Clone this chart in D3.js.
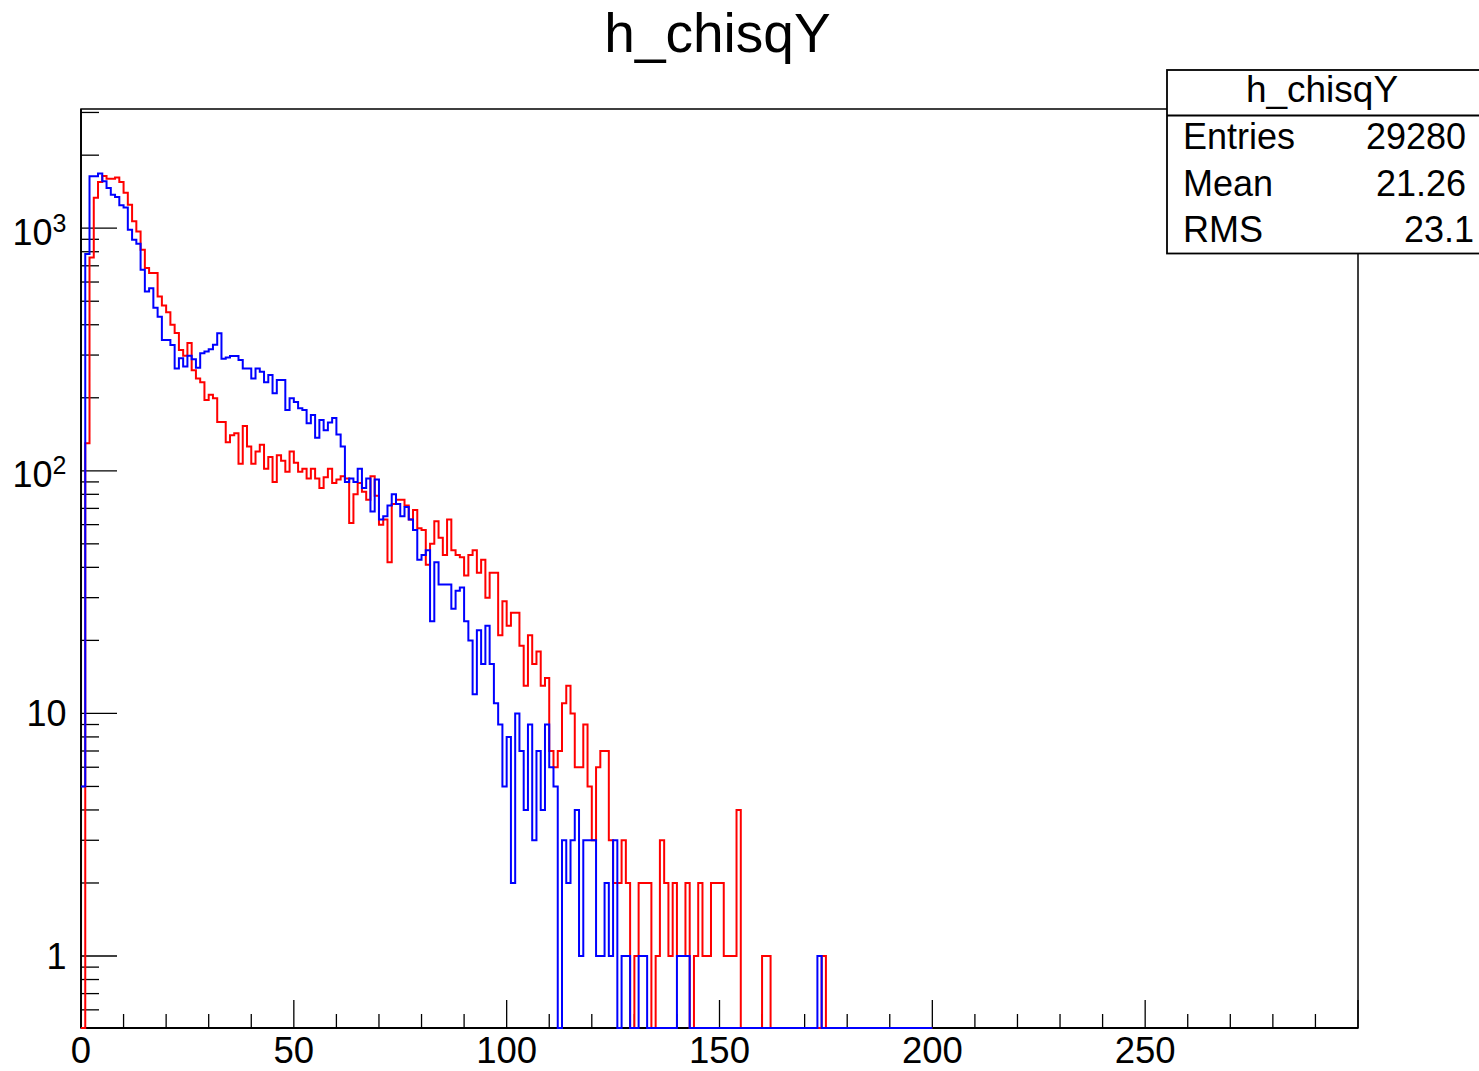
<!DOCTYPE html>
<html><head><meta charset="utf-8">
<script src="https://cdn.jsdelivr.net/npm/d3@7"></script>
<style>
body{margin:0;background:#fff;}
svg{display:block;}
text{font-family:"Liberation Sans",Arial,Helvetica,sans-serif;fill:#000;}
</style>
</head><body>
<svg id="c" width="1479" height="1071"></svg>
<script>
// ---------- data ----------
const chartTitle = "h_chisqY";
const binLow = 0, binWidth = 1;            // bins [i, i+1)
const xTickLabels = [0, 50, 100, 150, 200, 250];
const yDecadeValues = [1, 10, 100, 1000];
const yDecadeBase = ["1", "10", "10", "10"];
const yDecadeExp = ["", "", "2", "3"];
const statsTitle = "h_chisqY";
const statsNames = ["Entries", "Mean", "RMS"];
const statsValues = ["29280", "21.26", "23.1"];

// blue histogram, bins 0..199
const blueCounts = [
  5, 782, 1637, 1637, 1680, 1560, 1465, 1374, 1345, 1242,
  1218, 986, 896, 863, 674, 548, 566, 470, 432, 346,
  346, 330, 264, 291, 269, 298, 288, 266, 305, 310,
  317, 331, 369, 290, 293, 297, 297, 286, 264, 264,
  240, 264, 256, 232, 248, 209, 237, 237, 178, 199,
  192, 181, 178, 157, 170, 137, 162, 147, 158, 165,
  141, 126, 90, 93, 90, 102, 85, 93, 68, 92,
  63, 65, 72, 80, 73, 65, 71, 63, 57, 43,
  45, 47, 24, 42, 34, 34, 34, 27, 32, 33,
  24, 20, 12, 22, 16, 23, 16, 11, 9, 5,
  8, 2, 10, 7, 4, 9, 3, 7, 4, 9,
  6, 5, 0, 3, 2, 3, 4, 1, 3, 3,
  3, 1, 1, 2, 1, 3, 0, 1, 1, 0,
  0, 1, 1, 0, 0, 0, 0, 0, 0, 0,
  1, 1, 1, 0, 0, 0, 0, 0, 0, 0,
  0, 0, 0, 0, 0, 0, 0, 0, 0, 0,
  0, 0, 0, 0, 0, 0, 0, 0, 0, 0,
  0, 0, 0, 1, 0, 0, 0, 0, 0, 0,
  0, 0, 0, 0, 0, 0, 0, 0, 0, 0,
  0, 0, 0, 0, 0, 0, 0, 0, 0, 0
];

// red histogram, bins 0..199
const redCounts = [
  0, 130, 757, 1334, 1550, 1640, 1600, 1600, 1620, 1550,
  1400, 1250, 1067, 970, 815, 685, 653, 653, 523, 480,
  450, 400, 370, 315, 298, 336, 260, 240, 232, 196,
  206, 199, 159, 159, 131, 140, 143, 107, 153, 126,
  107, 120, 128, 102, 114, 90, 116, 110, 99, 120,
  108, 99, 102, 93, 102, 93, 85, 94, 102, 89,
  92, 95, 93, 61, 80, 89, 82, 76, 95, 79,
  60, 63, 42, 73, 76, 76, 72, 63, 69, 58,
  57, 41, 50, 62, 53, 45, 63, 47, 45, 44,
  37, 45, 47, 38, 43, 30, 38, 38, 21, 29,
  23, 26, 26, 19, 13, 21, 16, 18, 13, 14,
  7, 6, 7, 11, 13, 10, 6, 6, 9, 5,
  3, 6, 7, 7, 3, 2, 2, 3, 2, 0,
  1, 2, 2, 2, 0, 1, 3, 2, 1, 2,
  1, 1, 2, 0, 1, 2, 1, 1, 2, 2,
  2, 1, 1, 1, 4, 0, 0, 0, 0, 0,
  1, 1, 0, 0, 0, 0, 0, 0, 0, 0,
  0, 0, 0, 0, 1, 0, 0, 0, 0, 0,
  0, 0, 0, 0, 0, 0, 0, 0, 0, 0,
  0, 0, 0, 0, 0, 0, 0, 0, 0, 0
];

// ---------- layout ----------
const F = {left: 81, right: 1358, top: 109, bottom: 1028};
const svg = d3.select("#c");
const x = d3.scaleLinear().domain([0, 300]).range([F.left, F.right]);
const y = d3.scaleLog().domain([0.505, 3100]).range([F.bottom, F.top]);
const yv = v => v > 0 ? y(v) : F.bottom;

// frame
svg.append("rect").attr("x", F.left).attr("y", F.top)
  .attr("width", F.right - F.left).attr("height", F.bottom - F.top)
  .attr("fill", "#fff").attr("stroke", "#000").attr("stroke-width", 1.5);

// x ticks (pointing up, inside)
const xMinor = d3.range(0, 300, 10).filter(v => v % 50 !== 0);
const xMajor = d3.range(0, 301, 50);
const gx = svg.append("g");
gx.selectAll("line.mn").data(xMinor).join("line")
  .attr("x1", d => x(d)).attr("x2", d => x(d))
  .attr("y1", F.bottom).attr("y2", F.bottom - 14)
  .attr("stroke", "#000").attr("stroke-width", 1.3);
gx.selectAll("line.mj").data(xMajor).join("line")
  .attr("x1", d => x(d)).attr("x2", d => x(d))
  .attr("y1", F.bottom).attr("y2", F.bottom - 28)
  .attr("stroke", "#000").attr("stroke-width", 1.3);
gx.selectAll("text").data(xTickLabels).join("text")
  .attr("x", d => x(d)).attr("y", 1063)
  .attr("text-anchor", "middle").attr("font-size", 36.5)
  .text(d => d);

// y ticks
const yMinor = [];
[0.1, 1, 10, 100, 1000].forEach(dec => {
  for (let m = 2; m <= 9; m++) {
    const v = dec * m;
    if (v >= 0.505 && v <= 3100) yMinor.push(v);
  }
});
const gy = svg.append("g");
gy.selectAll("line.mn").data(yMinor).join("line")
  .attr("x1", F.left).attr("x2", F.left + 18)
  .attr("y1", d => y(d)).attr("y2", d => y(d))
  .attr("stroke", "#000").attr("stroke-width", 1.3);
gy.selectAll("line.mj").data(yDecadeValues).join("line")
  .attr("x1", F.left).attr("x2", F.left + 36)
  .attr("y1", d => y(d)).attr("y2", d => y(d))
  .attr("stroke", "#000").attr("stroke-width", 1.3);
const ylab = gy.selectAll("text").data(yDecadeValues).join("text")
  .attr("x", 66.5)
  .attr("y", (d, i) => y(d) + (yDecadeExp[i] ? 16.5 : 12.5))
  .attr("text-anchor", "end").attr("font-size", 36);
ylab.append("tspan").text((d, i) => yDecadeBase[i]);
ylab.filter((d, i) => yDecadeExp[i] !== "")
  .append("tspan").attr("font-size", 25).attr("dy", -13)
  .text((d) => yDecadeExp[yDecadeValues.indexOf(d)]);

// axis lines
svg.append("line").attr("x1", F.left).attr("x2", F.right)
  .attr("y1", F.bottom).attr("y2", F.bottom).attr("stroke", "#000").attr("stroke-width", 1.8);
svg.append("line").attr("x1", F.left).attr("x2", F.left)
  .attr("y1", F.top).attr("y2", F.bottom).attr("stroke", "#000").attr("stroke-width", 1.8);

// histograms
function stepPoints(counts) {
  const pts = [];
  counts.forEach((c, i) => {
    const lo = binLow + i * binWidth;
    pts.push([lo, c]);
    pts.push([lo + binWidth, c]);
  });
  return pts;
}
const line = d3.line().x(d => x(d[0])).y(d => yv(d[1]));
svg.append("path").datum(stepPoints(redCounts)).attr("d", line)
  .attr("fill", "none").attr("stroke", "#ff0000").attr("stroke-width", 2)
  .attr("stroke-linejoin", "miter");
svg.append("path").datum(stepPoints(blueCounts)).attr("d", line)
  .attr("fill", "none").attr("stroke", "#0000ff").attr("stroke-width", 2)
  .attr("stroke-linejoin", "miter");

// title
svg.append("text").attr("x", 717.5).attr("y", 52)
  .attr("text-anchor", "middle").attr("font-size", 55).text(chartTitle);

// stats box
const sb = svg.append("g");
sb.append("rect").attr("x", 1167).attr("y", 70).attr("width", 340).attr("height", 183.5)
  .attr("fill", "#fff").attr("stroke", "#000").attr("stroke-width", 1.8);
sb.append("line").attr("x1", 1167).attr("x2", 1479).attr("y1", 115.5).attr("y2", 115.5)
  .attr("stroke", "#000").attr("stroke-width", 1.8);
sb.append("text").attr("x", 1322).attr("y", 101.5).attr("text-anchor", "middle")
  .attr("font-size", 37).text(statsTitle);
const rowBase = [149, 195.5, 241.5];
const valRight = [1466, 1466, 1474];
sb.selectAll("text.n").data(statsNames).join("text").attr("class", "n")
  .attr("x", 1183).attr("y", (d, i) => rowBase[i]).attr("font-size", 36).text(d => d);
sb.selectAll("text.v").data(statsValues).join("text").attr("class", "v")
  .attr("x", (d, i) => valRight[i]).attr("y", (d, i) => rowBase[i])
  .attr("text-anchor", "end").attr("font-size", 36).text(d => d);
</script>
</body></html>
